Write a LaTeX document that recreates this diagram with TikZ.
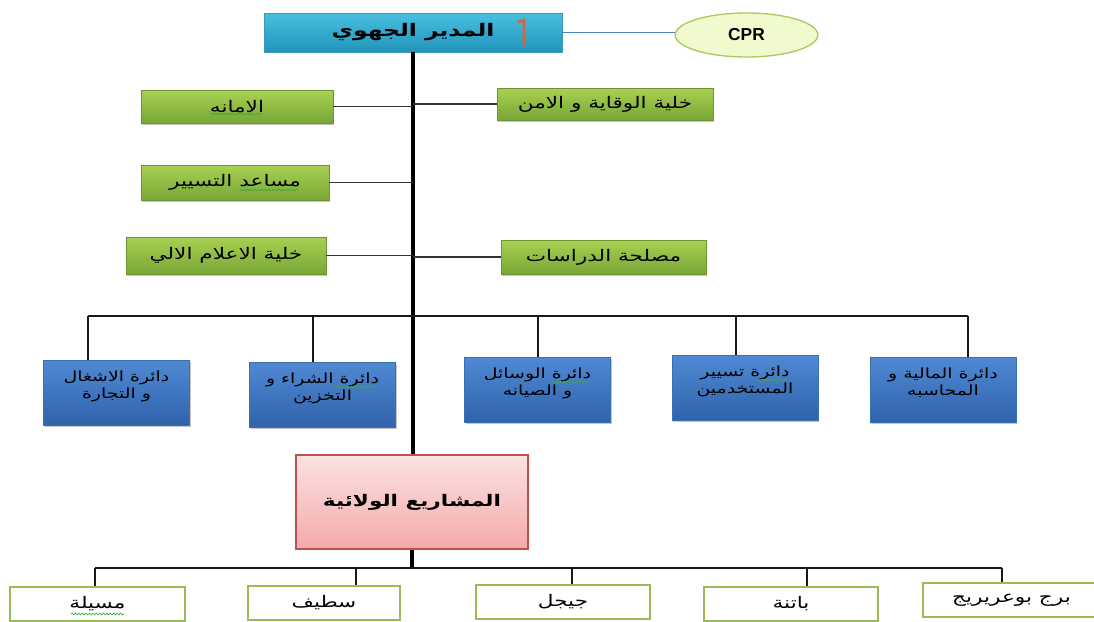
\documentclass[tikz,border=0pt]{standalone}
\usepackage{fontspec}
\TeXXeTstate=1
\newfontfamily\arabicfont[Script=Arabic, FakeStretch=1.35]{DejaVu Sans}
\newfontfamily\latinbold{Liberation Sans}
\usetikzlibrary{shadows,decorations.pathmorphing,shapes.geometric}

\definecolor{headtop}{HTML}{48BFE0}
\definecolor{headbot}{HTML}{2294BA}
\definecolor{headline}{HTML}{3A9AB8}
\definecolor{greentop}{HTML}{A9D152}
\definecolor{greenbot}{HTML}{78A636}
\definecolor{bluetop}{HTML}{5089D3}
\definecolor{bluebot}{HTML}{2F63AC}
\definecolor{blueline}{HTML}{3A6FB0}
\definecolor{pinktop}{HTML}{FBE2E2}
\definecolor{pinkbot}{HTML}{F4AAAA}
\definecolor{pinkline}{HTML}{C0504D}
\definecolor{wilaline}{HTML}{9BBB59}
\definecolor{cprfill}{HTML}{F1F9CF}
\definecolor{cprline}{HTML}{A8CB5E}
\definecolor{linkblue}{HTML}{4F81BD}
\definecolor{marker}{HTML}{E0603A}
\definecolor{squiggle}{HTML}{3FA83F}

\newcommand\artext[1]{{\arabicfont\beginR #1\endR}}

\tikzset{
  every node/.style={inner sep=2pt, font=\arabicfont\fontsize{12}{14}\selectfont},
  headbox/.style={draw=headline, line width=0.6pt, top color=headtop, bottom color=headbot,
    minimum width=223.5pt, minimum height=29.25pt, font=\arabicfont\bfseries\fontsize{13}{15}\selectfont},
  cprnode/.style={ellipse, draw=cprline, line width=1pt, fill=cprfill,
    minimum width=107pt, minimum height=33pt, font=\latinbold\bfseries\fontsize{13}{15}\selectfont},
  greenbox/.style={top color=greentop, bottom color=greenbot, draw=greenbot!90!black, line width=0.4pt,
    drop shadow={shadow xshift=1pt, shadow yshift=-1.5pt, opacity=0.5, fill=black!45}},
  bluebox/.style={top color=bluetop, bottom color=bluebot, draw=blueline, line width=0.4pt,
    minimum width=109.5pt, minimum height=48.75pt, align=center, anchor=center, text depth=12pt,
    font=\arabicfont\fontsize{10.5}{13}\selectfont,
    drop shadow={shadow xshift=1pt, shadow yshift=-1.5pt, opacity=0.5, fill=black!45}},
  projbox/.style={top color=pinktop, bottom color=pinkbot, draw=pinkline, line width=0.8pt,
    minimum width=174pt, minimum height=70.5pt, font=\arabicfont\bfseries\fontsize{12}{14}\selectfont},
  wilayabox/.style={draw=wilaline, line width=1.6pt, fill=white,
    minimum width=130pt, minimum height=25.5pt},
  trunk/.style={line width=3.6pt, black},
  bus/.style={line width=2.2pt, black!90},
  twig/.style={line width=1pt, black!80},
  spell/.style={squiggle, line width=0.5pt,
    decorate, decoration={snake, amplitude=0.7pt, segment length=2.6pt}}
}

\begin{document}
\begin{tikzpicture}[x=0.75pt, y=-0.75pt]
\useasboundingbox (0,0) rectangle (1094,621);

% regional director and the CPR
\node[headbox] (head) at (413,32.5) {\artext{المدير الجهوي}};
\draw[marker, line width=2pt] (518,22) -- (524,20) -- (524,46);
\node[cprnode] (cpr) at (746.5,35) {CPR};
\draw[linkblue, line width=0.7pt] (head.east) -- (head.east -| cpr.west);

% staff units along the trunk
\node[greenbox, minimum width=144pt, minimum height=24.75pt] (amana) at (237,106.5) {\artext{الامانه}};
\node[greenbox, minimum width=162pt, minimum height=24pt] (wiqaya) at (605,104) {\artext{خلية الوقاية و الامن}};
\node[greenbox, minimum width=141pt, minimum height=26.25pt] (musaid) at (235,182.5) {\artext{مساعد التسيير}};
\node[greenbox, minimum width=150pt, minimum height=27.75pt] (ilam) at (226,255.5) {\artext{خلية الاعلام الالي}};
\node[greenbox, minimum width=153.75pt, minimum height=25.5pt] (dirasat) at (603.5,257) {\artext{مصلحة الدراسات}};

% divisions
\node[bluebox] (d1) at (116.5,392.5) {\artext{دائرة الاشغال}\\\artext{و التجارة}};
\node[bluebox] (d2) at (322.5,394.5) {\artext{دائرة الشراء و}\\\artext{التخزين}};
\node[bluebox] (d3) at (537.5,389.5) {\artext{دائرة الوسائل}\\\artext{و الصيانه}};
\node[bluebox] (d4) at (745,387.5) {\artext{دائرة تسيير}\\\artext{المستخدمين}};
\node[bluebox] (d5) at (943,389.5) {\artext{دائرة المالية و}\\\artext{المحاسبه}};

% wilaya projects
\node[projbox] (proj) at (412,502) {\artext{المشاريع الولائية}};

% wilayas
\node[wilayabox, minimum width=131pt] (w1) at (97.5,604) {\artext{مسيلة}};
\node[wilayabox, minimum width=114pt] (w2) at (324,603) {\artext{سطيف}};
\node[wilayabox, minimum width=130.5pt] (w3) at (563,602) {\artext{جيجل}};
\node[wilayabox, minimum width=130.5pt] (w4) at (791,604) {\artext{باتنة}};
\node[wilayabox, minimum width=133pt] (w5) at (1011.5,600) {\artext{برج بوعريريج}};

% main trunk
\draw[trunk] (head.south) -- (head.south |- proj.north);
\coordinate (tail) at (412,568);
\draw[trunk] (proj.south) -- (tail);

% staff unit links
\draw[twig] (amana.east) -- (amana.east -| head.south);
\draw[twig] (wiqaya.west) -- (wiqaya.west -| head.south);
\draw[twig] (musaid.east) -- (musaid.east -| head.south);
\draw[twig] (ilam.east) -- (ilam.east -| head.south);
\draw[twig] (dirasat.west) -- (dirasat.west -| head.south);

% division bus
\coordinate (b1) at (88,316);
\coordinate (b2) at (313,316);
\coordinate (b3) at (538,316);
\coordinate (b4) at (736,316);
\coordinate (b5) at (968,316);
\draw[bus] (b1) -- (b5);
\draw[bus] (b1) -- (b1 |- d1.north);
\draw[bus] (b2) -- (b2 |- d2.north);
\draw[bus] (b3) -- (b3 |- d3.north);
\draw[bus] (b4) -- (b4 |- d4.north);
\draw[bus] (b5) -- (b5 |- d5.north);

% wilaya bus
\coordinate (c1) at (95,568);
\coordinate (c2) at (356,568);
\coordinate (c3) at (572,568);
\coordinate (c4) at (807,568);
\coordinate (c5) at (1002,568);
\draw[bus] (c1) -- (c5);
\draw[bus] (c1) -- (c1 |- w1.north);
\draw[bus] (c2) -- (c2 |- w2.north);
\draw[bus] (c3) -- (c3 |- w3.north);
\draw[bus] (c4) -- (c4 |- w4.north);
\draw[bus] (c5) -- (c5 |- w5.north);

% proofing underlines
\draw[spell] (211,114) -- (262,114);
\draw[spell] (240,190) -- (298,190);
\draw[spell] (333,387) -- (374,387);
\draw[spell] (552,382) -- (588,382);
\draw[spell] (757,380) -- (787,380);
\draw[spell] (71,614) -- (124,614);
\end{tikzpicture}
\end{document}
